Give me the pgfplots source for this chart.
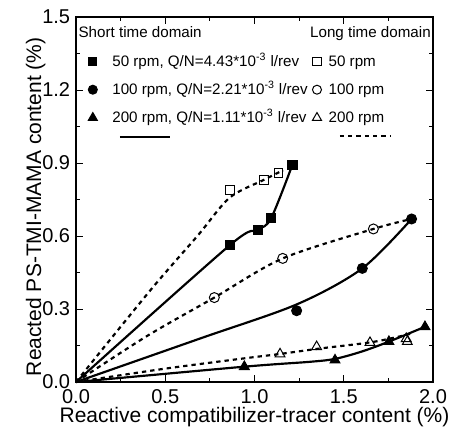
\documentclass[border=0pt]{standalone}
\usepackage{fontspec}
\setmainfont{Liberation Sans}
\usepackage{pgfplots}
\pgfplotsset{compat=1.18}

\newcommand{\lfont}{\fontsize{12.6}{14}\selectfont}
\newcommand{\tfont}{\fontsize{12}{14}\selectfont}
\newcommand{\kfont}{\fontsize{9.1}{11}\selectfont}

\tikzset{dotline/.style={line width=1.3pt, dash pattern=on 2.6pt off 2.4pt}}
\pgfplotsset{keymark/.style={legend image code/.code={\draw[##1, mark size=#1] plot coordinates {(0cm,0cm)};}}}

\begin{document}
\begin{tikzpicture}
\path[use as bounding box] (-45.6pt,-34.2pt) rectangle (224.4pt,229.2pt);
\begin{axis}[
   scale only axis, width=214.2pt, height=219pt,
   xmin=0, xmax=2, ymin=0, ymax=1.5,
   xtick={0,0.5,1,1.5,2}, ytick={0,0.3,0.6,0.9,1.2,1.5},
   minor x tick num=1, minor y tick num=1,
   tick align=inside, major tick length=4pt, minor tick length=2.5pt,
   every tick/.style={black, line width=0.6pt},
   axis line style={line width=0.8pt},
   ticklabel style={font=\tfont, /pgf/number format/.cd, fixed, fixed zerofill, precision=1, assume math mode=true},
   xticklabel style={/tikz/yshift=-1pt},
   xlabel={Reactive compatibilizer-tracer content (\%)},
   ylabel={Reacted PS-TMI-MAMA content (\%)},
   label style={font=\lfont},
   xlabel style={at={(rel axis cs:0.5,0)}, anchor=base, yshift=-24pt},
   ylabel style={at={(rel axis cs:-0.113,0.48)}, anchor=center},
   clip=false,
   legend columns=2, legend cell align=left,
   legend style={draw=none, fill=none, inner sep=0pt, font=\kfont,
      at={(rel axis cs:0.0336,0.899)}, anchor=north west,
      nodes={inner sep=0pt, text height=7.5pt, text depth=1.5pt},
      row sep=7.8pt,
      /tikz/column 1/.style={column sep=9pt},
      /tikz/column 2/.style={column sep=2.9pt},
      /tikz/column 3/.style={column sep=4.3pt}},
]
% fitted curves, short time domain (solid)
\addplot[black, line width=1.3pt, smooth, forget plot] coordinates {
   (0,0) (0.863,0.563) (1.018,0.625) (1.093,0.673) (1.212,0.892)};
\addplot[black, line width=1.3pt, smooth, forget plot] coordinates {
   (0,0) (0.70,0.18) (1.24,0.32) (1.604,0.467) (1.880,0.670)};
\addplot[black, line width=1.3pt, smooth, forget plot] coordinates {
   (0,0) (0.943,0.063) (1.31,0.083) (1.451,0.095) (1.60,0.125) (1.753,0.166) (1.955,0.227)};
% fitted curves, long time domain (dotted)
\addplot[black, dotline, smooth, forget plot] coordinates {
   (0,0) (0.42,0.38) (0.68,0.60) (0.86,0.757) (1.05,0.83) (1.16,0.87)};
\addplot[black, dotline, smooth, forget plot] coordinates {
   (0,0) (0.40,0.19) (0.775,0.347) (1.158,0.508) (1.666,0.629) (1.880,0.670)};
\addplot[black, dotline, smooth, forget plot] coordinates {
   (0,0) (0.50,0.055) (0.94,0.097) (1.14,0.115) (1.37,0.138) (1.65,0.163) (1.83,0.19) (1.88,0.20)};

% measured points
\addplot[only marks, mark=square*, mark size=2.8pt, mark options={fill=black, line width=0.6pt}, keymark=2.5pt]
   coordinates {(0.863,0.563) (1.018,0.625) (1.093,0.673) (1.212,0.892)};
\addlegendentry{50 rpm, Q/N=4.43*10\textsuperscript{-3} l/rev}
\addplot[only marks, mark=square, mark size=2.6pt, mark options={line width=0.6pt}, keymark=2.5pt]
   coordinates {(0.863,0.789) (1.055,0.830) (1.134,0.858)};
\addlegendentry{50 rpm}
\addplot[only marks, mark=*, mark size=3pt, mark options={fill=black, line width=0.6pt}, keymark=2.7pt]
   coordinates {(1.236,0.293) (1.604,0.467) (1.880,0.670)};
\addlegendentry{100 rpm, Q/N=2.21*10\textsuperscript{-3} l/rev}
\addplot[only marks, mark=o, mark size=3pt, mark options={line width=0.6pt}, keymark=2.7pt]
   coordinates {(0.775,0.347) (1.158,0.508) (1.666,0.629)};
\addlegendentry{100 rpm}
\addplot[only marks, mark=triangle*, mark size=3.4pt, mark options={fill=black, line width=0.6pt}, keymark=3.1pt]
   coordinates {(0.943,0.063) (1.451,0.090) (1.753,0.166) (1.955,0.227)};
\addlegendentry{200 rpm, Q/N=1.11*10\textsuperscript{-3} l/rev}
\addplot[only marks, mark=triangle, mark size=3.4pt, mark options={line width=0.6pt}, keymark=3.1pt]
   coordinates {(1.143,0.115) (1.348,0.145) (1.647,0.162) (1.856,0.166) (1.85,0.178)};
\addlegendentry{200 rpm}

% legend headers and line keys
\node[font=\kfont, anchor=base west, inner sep=0pt] at (rel axis cs:0.0064,0.9425) {Short time domain};
\node[font=\kfont, anchor=base west, inner sep=0pt] at (rel axis cs:0.655,0.9425) {Long time domain};
\draw[line width=1.3pt] (rel axis cs:0.123,0.672) -- (rel axis cs:0.263,0.672);
\draw[dotline] (rel axis cs:0.739,0.675) -- (rel axis cs:0.880,0.675);
\end{axis}
\end{tikzpicture}
\end{document}
